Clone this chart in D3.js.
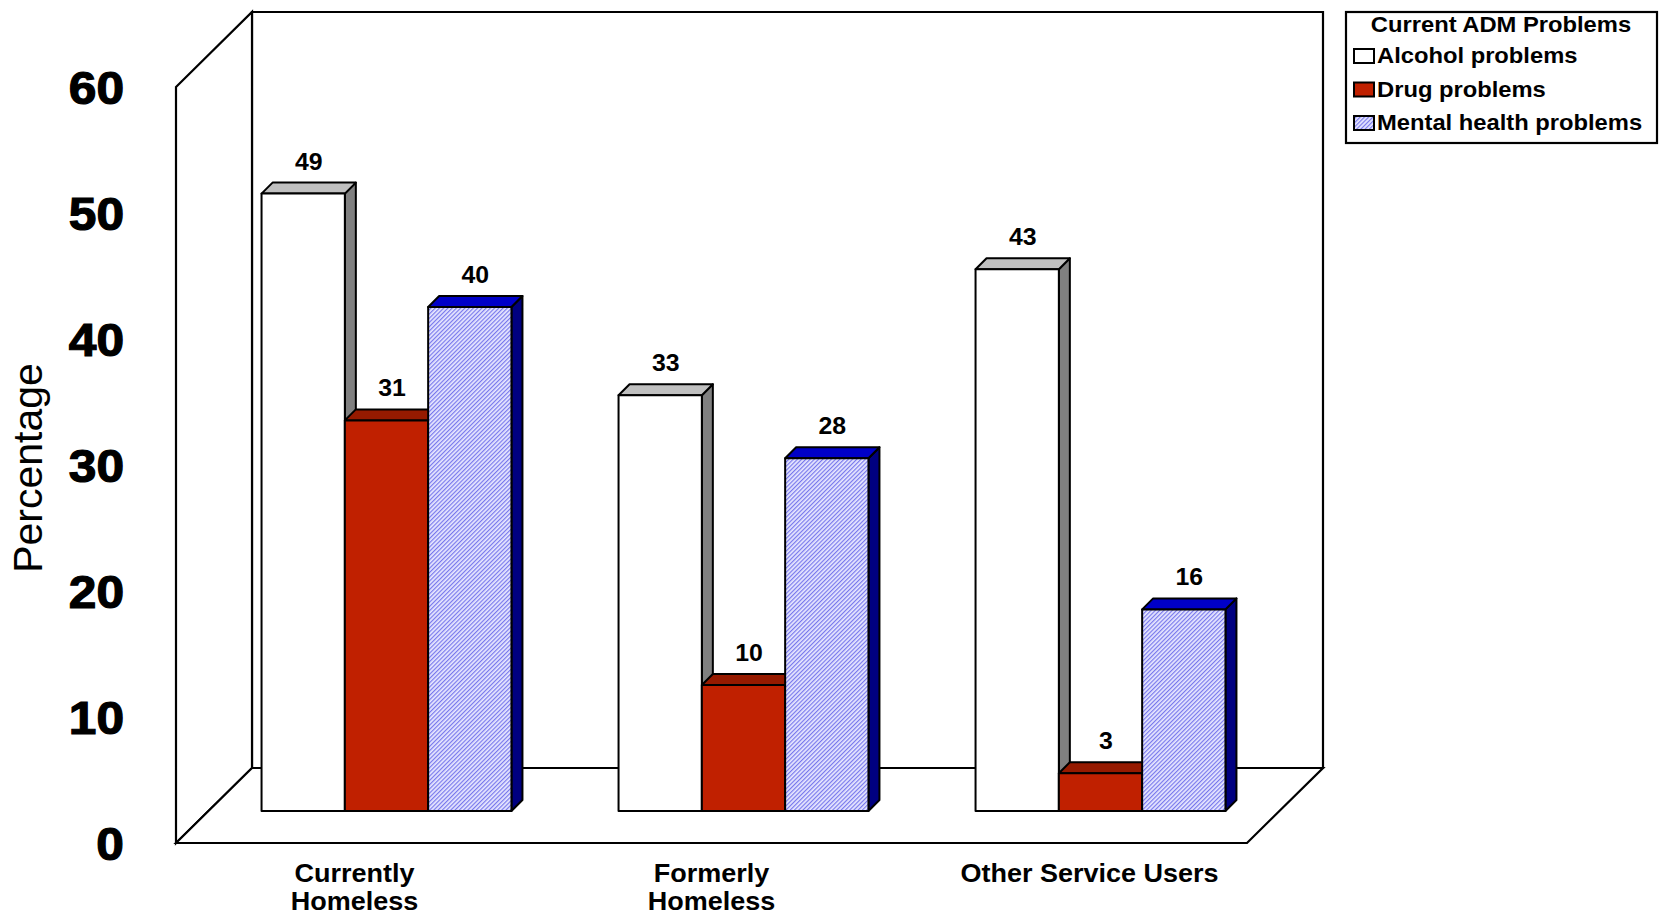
<!DOCTYPE html>
<html>
<head>
<meta charset="utf-8">
<script src="https://cdn.jsdelivr.net/npm/d3@7"></script>
<style>
  html, body { margin: 0; padding: 0; background: #fff; }
  svg { display: block; font-family: "Liberation Sans", Arial, sans-serif; }
</style>
</head>
<body>
<svg id="chart" width="1661" height="915"></svg>
<script>
// Groups of respondents along the category axis
const categories = ["Currently Homeless", "Formerly Homeless", "Other Service Users"];
const categoryLines = [["Currently", "Homeless"], ["Formerly", "Homeless"], ["Other Service Users"]];

// Share (%) reporting each current problem
const seriesNames = ["Alcohol problems", "Drug problems", "Mental health problems"];
const alcohol = [49, 33, 43];
const drug = [31, 10, 3];
const mental = [40, 28, 16];

const yTicks = [0, 10, 20, 30, 40, 50, 60];
const legendTitle = "Current ADM Problems";
const yTitle = "Percentage";

const seriesValues = [alcohol, drug, mental];

// Face colours: front, top, side
const faceStyles = [
  { front: "#ffffff", top: "#c0c0c0", side: "#808080" },
  { front: "#c02000", top: "#961a00", side: "#961a00" },
  { front: "url(#hatch)", top: "#0000c8", side: "#000080" }
];

const svg = d3.select("#chart");

// Hatch fill for the mental-health bars
const defs = svg.append("defs");
const pat = defs.append("pattern")
  .attr("id", "hatch")
  .attr("patternUnits", "userSpaceOnUse")
  .attr("width", 3).attr("height", 3)
  .attr("patternTransform", "rotate(45)");
pat.append("rect").attr("width", 3).attr("height", 3).attr("fill", "#e8e8ff");
pat.append("rect").attr("width", 1.2).attr("height", 3).attr("fill", "#7878ec");

// Front plane of the 3-D box
const x0 = 176, x1 = 1247;
const yBase = 843, yTop = 87;
// Depth of the floor / side wall
const depthX = 76, depthY = -75;
// Bars sit part-way back inside the box
const barShiftX = 32, barShiftY = -32;
const barDepth = 11;
// Slightly wide lettering
const stretch = 1.08;

const y = d3.scaleLinear().domain([0, 60]).range([yBase, yTop]);
const xBand = d3.scaleBand().domain(categories).range([x0, x1]).paddingInner(0).paddingOuter(0);
const bw = xBand.bandwidth();
const xSeries = d3.scaleBand().domain(seriesNames).range([bw * 0.15, bw * 0.85]).padding(0);

const line = (pts) => "M" + pts.map(p => p.join(",")).join("L") + "Z";
const ink = "#000";

// Places a text at (x, y) with a horizontal stretch
function wideText(parent, x, yy) {
  return parent.append("g")
    .attr("transform", `translate(${x},${yy}) scale(${stretch},1)`)
    .append("text").attr("fill", ink);
}

// Walls and floor
const g = svg.append("g");
// back wall
g.append("path")
  .attr("d", line([[x0 + depthX, y(60) + depthY], [x1 + depthX, y(60) + depthY], [x1 + depthX, yBase + depthY], [x0 + depthX, yBase + depthY]]))
  .attr("fill", "#fff").attr("stroke", ink).attr("stroke-width", 2.2);
// left side wall
g.append("path")
  .attr("d", line([[x0, y(60)], [x0 + depthX, y(60) + depthY], [x0 + depthX, yBase + depthY], [x0, yBase]]))
  .attr("fill", "#fff").attr("stroke", ink).attr("stroke-width", 2.2);
// floor
g.append("path")
  .attr("d", line([[x0, yBase], [x0 + depthX, yBase + depthY], [x1 + depthX, yBase + depthY], [x1, yBase]]))
  .attr("fill", "#fff").attr("stroke", ink).attr("stroke-width", 2.2);

// Bars, drawn group by group left to right so each front face covers the previous side face
const bars = svg.append("g");
categories.forEach((cat, ci) => {
  seriesNames.forEach((s, si) => {
    const v = seriesValues[si][ci];
    const st = faceStyles[si];
    const xl = xBand(cat) + xSeries(s) + barShiftX;
    const xr = xl + xSeries.bandwidth();
    const yb = y(0) + barShiftY;
    const yt = y(v) + barShiftY;
    const d = barDepth;
    const bg = bars.append("g").attr("stroke", ink).attr("stroke-width", 2).attr("stroke-linejoin", "round");
    // side
    bg.append("path").attr("d", line([[xr, yt], [xr + d, yt - d], [xr + d, yb - d], [xr, yb]])).attr("fill", st.side);
    // top
    bg.append("path").attr("d", line([[xl, yt], [xl + d, yt - d], [xr + d, yt - d], [xr, yt]])).attr("fill", st.top);
    // front
    bg.append("rect").attr("x", xl).attr("y", yt).attr("width", xr - xl).attr("height", yb - yt).attr("fill", st.front);
    // value label
    wideText(bars, (xl + xr) / 2 + d / 2, yt - d - 13)
      .attr("text-anchor", "middle")
      .attr("font-size", 23).attr("font-weight", "bold")
      .text(v);
  });
});

// Y axis tick labels
const tickG = svg.append("g");
yTicks.forEach(t => {
  wideText(tickG, 124, y(t))
    .attr("dy", "0.36em")
    .attr("text-anchor", "end")
    .attr("font-size", 46).attr("font-weight", "bold")
    .attr("stroke", ink).attr("stroke-width", 1.2)
    .text(t);
});

// Y axis title
svg.append("text")
  .attr("transform", "translate(42,468) rotate(-90)")
  .attr("text-anchor", "middle")
  .attr("font-size", 41)
  .attr("fill", ink)
  .text(yTitle);

// Category labels; the single-line label sits a little right of its band centre
const catG = svg.append("g");
categories.forEach((cat, ci) => {
  const lines = categoryLines[ci];
  const cx = xBand(cat) + bw / 2 + (lines.length === 1 ? 21 : 0);
  const t = wideText(catG, cx, 882)
    .attr("text-anchor", "middle")
    .attr("font-size", 25).attr("font-weight", "bold");
  lines.forEach((ln, li) => {
    t.append("tspan").attr("x", 0).attr("dy", li === 0 ? 0 : 28).text(ln);
  });
});

// Legend
const lg = svg.append("g");
lg.append("rect").attr("x", 1346).attr("y", 12).attr("width", 311).attr("height", 131)
  .attr("fill", "#fff").attr("stroke", ink).attr("stroke-width", 2.2);
wideText(lg, 1501, 32).attr("text-anchor", "middle")
  .attr("font-size", 22).attr("font-weight", "bold").text(legendTitle);
seriesNames.forEach((s, si) => {
  const yy = 63 + si * 33.5;
  lg.append("rect").attr("x", 1354).attr("y", yy - 14).attr("width", 20).attr("height", 14)
    .attr("fill", faceStyles[si].front).attr("stroke", ink).attr("stroke-width", 2);
  wideText(lg, 1377, yy)
    .attr("font-size", 22).attr("font-weight", "bold").text(s);
});
</script>
</body>
</html>
